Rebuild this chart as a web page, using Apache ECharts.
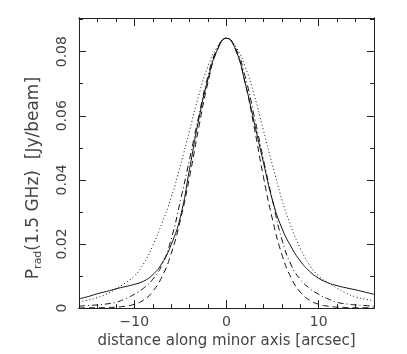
<!DOCTYPE html>
<html>
<head>
<meta charset="utf-8">
<script src="https://cdn.jsdelivr.net/npm/echarts@6/dist/echarts.min.js"></script>
<style>
  html, body { margin: 0; padding: 0; background: #fff; }
  #radio-profile { width: 407px; height: 354px; }
</style>
</head>
<body>
<div id="radio-profile"></div>
<script>
// =============================== //
//
// Radio profile along minor axis
//
// =============================== //

// Distance along minor axis [arcsec]
const distance = [-16, -15, -14, -13, -12, -11, -10, -9, -8, -7, -6, -5, -4, -3, -2, -1, 0,
    1, 2, 3, 4, 5, 6, 7, 8, 9, 10, 11, 12, 13, 14, 15, 16];

// Profiles [Jy/beam]
const solidProfile = [0.0029, 0.0036, 0.0045, 0.0052, 0.0060, 0.0067, 0.0074, 0.0084, 0.0104, 0.0140, 0.0198, 0.0285, 0.0435, 0.0590, 0.0715, 0.0805, 0.0842,
    0.0805, 0.0705, 0.0580, 0.0455, 0.0335, 0.0250, 0.0192, 0.0147, 0.0115, 0.0093, 0.0079, 0.0070, 0.0063, 0.0057, 0.0050, 0.0043];
const dottedProfile = [0.0020, 0.0025, 0.0033, 0.0044, 0.0060, 0.0078, 0.0100, 0.0138, 0.0195, 0.0265, 0.0345, 0.0445, 0.0555, 0.0665, 0.0755, 0.0815, 0.0842,
    0.0815, 0.0755, 0.0665, 0.0555, 0.0445, 0.0340, 0.0255, 0.0187, 0.0135, 0.0100, 0.0080, 0.0062, 0.0046, 0.0035, 0.0028, 0.0022];
const dashDotProfile = [0.0006, 0.0008, 0.0010, 0.0013, 0.0018, 0.0029, 0.0043, 0.0062, 0.0090, 0.0135, 0.0215, 0.0335, 0.0465, 0.0600, 0.0725, 0.0810, 0.0842,
    0.0810, 0.0725, 0.0600, 0.0465, 0.0335, 0.0215, 0.0135, 0.0090, 0.0062, 0.0043, 0.0029, 0.0018, 0.0013, 0.0010, 0.0008, 0.0006];
const dashedProfile = [0.0000, 0.0001, 0.0001, 0.0002, 0.0003, 0.0006, 0.0012, 0.0025, 0.0052, 0.0098, 0.0170, 0.0275, 0.0410, 0.0565, 0.0705, 0.0805, 0.0842,
    0.0805, 0.0705, 0.0565, 0.0410, 0.0275, 0.0168, 0.0095, 0.0050, 0.0025, 0.0012, 0.0006, 0.0003, 0.0002, 0.0001, 0.0001, 0.0000];

// Ticks and labels
const xMajorTicks = [-10, 0, 10];
const xMinorTicks = [-16, -14, -12, -8, -6, -4, -2, 2, 4, 6, 8, 12, 14, 16];
const yMajorTicks = [0, 0.02, 0.04, 0.06, 0.08];
const yMinorTicks = [0.01, 0.03, 0.05, 0.07, 0.09];

const axisColor = "#222";
const textColor = "#444";
const fontFamily = "DejaVu Sans";

// Pair x with y for value axes
function toPoints(ys) {
    return distance.map((d, i) => [d, ys[i]]);
};

// Build one frame axis (ticks inside, optional labels)
function frameX(position, ticks, length, labels) {
    return {
        type: "value",
        position: position,
        min: -16,
        max: 16,
        axisLine: { show: true, onZero: false, lineStyle: { color: axisColor, width: 1 } },
        axisTick: { show: true, inside: true, length: length, customValues: ticks, lineStyle: { color: axisColor } },
        axisLabel: labels ? {
            show: true,
            customValues: xMajorTicks,
            margin: 7,
            color: textColor,
            fontFamily: fontFamily,
            fontSize: 14,
            formatter: v => v < 0 ? "\u2212" + Math.abs(v) : String(v),
        } : { show: false },
        splitLine: { show: false },
        name: labels ? "distance along minor axis [arcsec]" : "",
        nameLocation: "middle",
        nameGap: 17,
        nameTextStyle: { color: textColor, fontFamily: fontFamily, fontSize: 15 },
    };
};

function frameY(position, ticks, length, labels) {
    return {
        type: "value",
        position: position,
        min: 0,
        max: 0.0905,
        axisLine: { show: true, onZero: false, lineStyle: { color: axisColor, width: 1 } },
        axisTick: { show: true, inside: true, length: length, customValues: ticks, lineStyle: { color: axisColor } },
        axisLabel: labels ? {
            show: true,
            customValues: yMajorTicks,
            rotate: 90,
            margin: 10,
            color: textColor,
            fontFamily: fontFamily,
            fontSize: 14,
            formatter: v => v === 0 ? "0" : v.toFixed(2),
        } : { show: false },
        splitLine: { show: false },
        // trailing spacer pushes the title down the axis, as in the figure
        name: labels ? "{t|P}{s|rad}{t|(1.5 GHz)  [Jy/beam]}{sp|}" : "",
        nameLocation: "middle",
        nameGap: 35,
        nameRotate: 90,
        nameTextStyle: {
            color: textColor,
            fontFamily: fontFamily,
            fontSize: 17,
            rich: {
                t: { fontSize: 17, fontFamily: fontFamily, color: textColor },
                s: { fontSize: 11, fontFamily: fontFamily, color: textColor, padding: [10, 0, 0, 0] },
                sp: { width: 30 },
            },
        },
    };
};

// Line series
function profileSeries(name, ys, dash) {
    return {
        name: name,
        type: "line",
        data: toPoints(ys),
        smooth: true,
        showSymbol: false,
        lineStyle: { color: "#111", width: 1, type: dash },
        emphasis: { disabled: true },
        silent: true,
    };
};

const chart = echarts.init(document.getElementById("radio-profile"));

const option = {
    animation: false,
    grid: { left: 79, top: 18, right: 33, bottom: 42 },
    xAxis: [
        frameX("bottom", xMinorTicks, 4, true),
        frameX("bottom", xMajorTicks, 8, false),
        frameX("top", xMinorTicks, 4, false),
        frameX("top", xMajorTicks, 8, false),
    ],
    yAxis: [
        frameY("left", yMinorTicks, 4, true),
        frameY("left", yMajorTicks, 7, false),
        frameY("right", yMinorTicks, 4, false),
        frameY("right", yMajorTicks, 7, false),
    ],
    series: [
        profileSeries("solid", solidProfile, "solid"),
        profileSeries("dotted", dottedProfile, [1, 2.5]),
        profileSeries("dash-dot", dashDotProfile, [6, 3, 1, 3]),
        profileSeries("dashed", dashedProfile, [6, 4]),
    ],
};

chart.setOption(option);
</script>
</body>
</html>
